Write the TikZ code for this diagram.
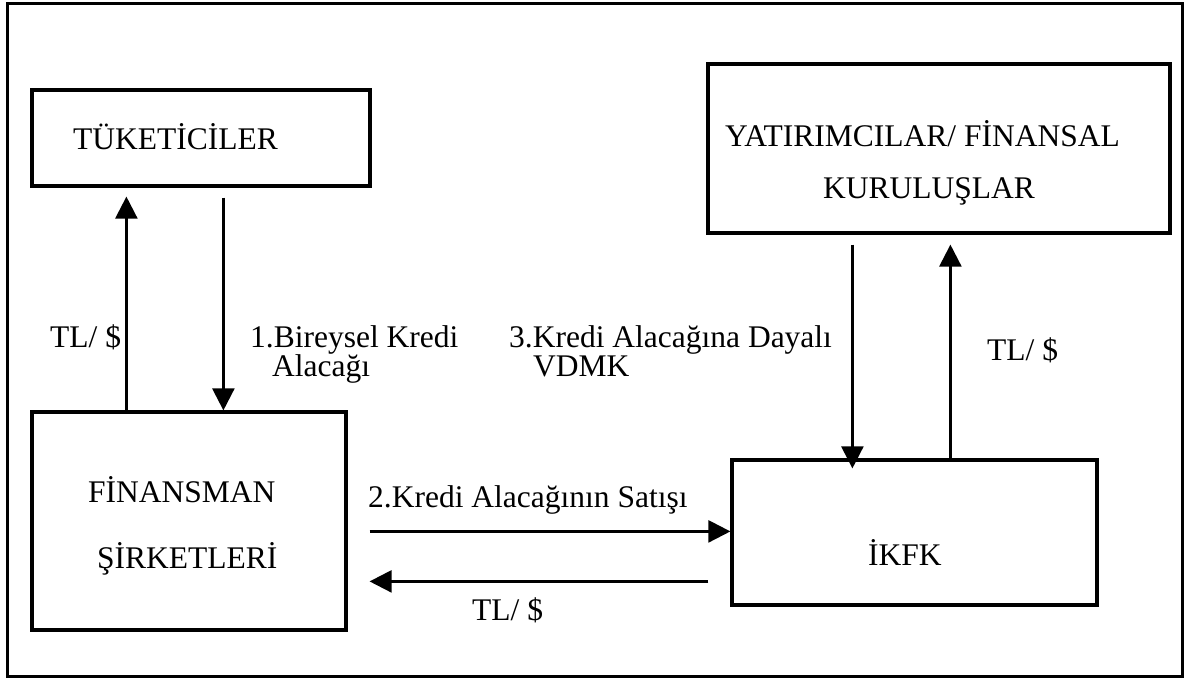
\documentclass[tikz,border=0pt]{standalone}
\usepackage{fontspec}
\setmainfont{Liberation Serif}
\usetikzlibrary{arrows.meta,calc}
\begin{document}
\begin{tikzpicture}[x=1pt,y=-1pt,
  frame/.style={draw,line width=3pt},
  box/.style={draw,line width=3.2pt,rectangle,inner sep=0pt},
  label/.style={anchor=base west,inner sep=0pt,font=\fontsize{31.5}{36}\selectfont},
  flow/.style={line width=2.4pt,-{Triangle[length=22pt,width=22pt]}}]
\useasboundingbox (0,0) rectangle (1190,679);
% outer frame
\draw[frame] (7,4) rectangle (1182,676);

% boxes
\node[box,minimum width=338pt,minimum height=96pt] (tuk) at (201,138) {};
\node[box,minimum width=462pt,minimum height=169pt] (yat) at (939,148.5) {};
\node[box,minimum width=314pt,minimum height=218pt] (fin) at (189,521) {};
\node[box,minimum width=365pt,minimum height=145pt] (ikfk) at (914.5,532.5) {};

% box texts
\node[label] (tuktxt) at (73,150) {TÜKETİCİLER};
\node[label] (yattxt1) at (725,147) {YATIRIMCILAR/ FİNANSAL};
\node[label] (yattxt2) at (823,198) {KURULUŞLAR};
\node[label] (fintxt1) at (88,502) {FİNANSMAN};
\node[label] (fintxt2) at (97,568) {ŞİRKETLERİ};
\node[label] (ikfktxt) at (868,565) {İKFK};

% flow labels
\node[label] (tl1) at (50,347) {TL/ \$};
\node[label] (kr1) at (250,347) {1.Bireysel Kredi};
\node[label] (kr1b) at (272,376) {Alacağı};
\node[label] (kr3) at (509,347) {3.Kredi Alacağına Dayalı};
\node[label] (kr3b) at (533,376) {VDMK};
\node[label] (tl3) at (987,360) {TL/ \$};
\node[label] (kr2) at (368,507) {2.Kredi Alacağının Satışı};
\node[label] (tl2) at (472,620) {TL/ \$};

% flows between the parties
\draw[flow] ($(fin.north west)+(96,0)$) -- ($(tuk.south west)+(96,9)$);
\draw[flow] ($(tuk.south west)+(193,10)$) -- ($(fin.north west)+(193,0)$);
\draw[flow] ($(fin.north east)+(22,121)$) -- ($(ikfk.north west)+(0,73)$);
\draw[flow] ($(ikfk.north west)+(-22,123)$) -- ($(fin.north east)+(22,171)$);
\draw[flow] ($(yat.south west)+(146,10)$) -- ($(ikfk.north west)+(122,10)$);
\draw[flow] ($(ikfk.north west)+(220,0)$) -- ($(yat.south west)+(244,10)$);
\end{tikzpicture}
\end{document}
